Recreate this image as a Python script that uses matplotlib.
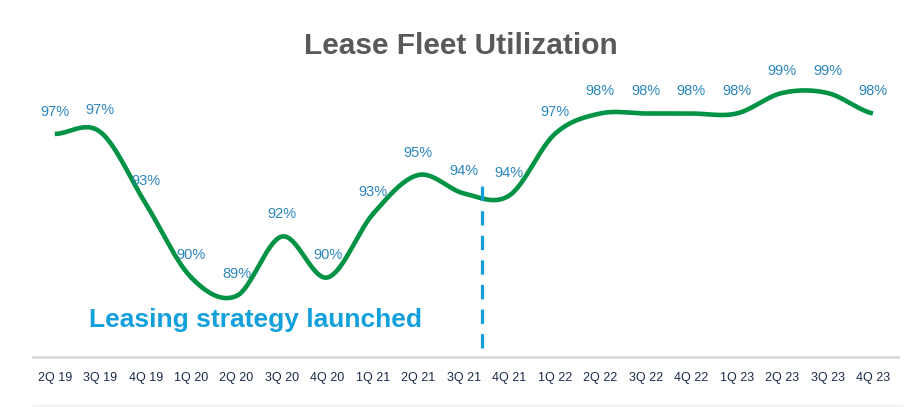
import numpy as np
import matplotlib.pyplot as plt
from matplotlib.lines import Line2D

quarters = ['2Q 19', '3Q 19', '4Q 19', '1Q 20', '2Q 20', '3Q 20', '4Q 20',
            '1Q 21', '2Q 21', '3Q 21', '4Q 21', '1Q 22', '2Q 22', '3Q 22',
            '4Q 22', '1Q 23', '2Q 23', '3Q 23', '4Q 23']
utilization = [97.0, 97.1, 93.6, 90.0, 89.1, 92.0, 90.0, 93.1, 95.0, 94.1,
               94.0, 97.0, 98.0, 98.0, 98.0, 98.0, 99.0, 99.0, 98.0]
labels = ['97%', '97%', '93%', '90%', '89%', '92%', '90%', '93%', '95%', '94%',
          '94%', '97%', '98%', '98%', '98%', '98%', '99%', '99%', '98%']
launch_pos = 9.4  # between 3Q 21 and 4Q 21

plt.rcParams['font.family'] = ['Liberation Sans', 'DejaVu Sans']


def smooth(x, y, n=30):
    # catmull-rom curve through the points, like a smoothed office chart line
    x = np.asarray(x, float)
    y = np.asarray(y, float)
    px = np.concatenate([[2 * x[0] - x[1]], x, [2 * x[-1] - x[-2]]])
    py = np.concatenate([[y[0]], y, [y[-1]]])
    xs, ys = [], []
    t = np.linspace(0, 1, n)
    for i in range(1, len(px) - 2):
        for p, out in ((px, xs), (py, ys)):
            p0, p1, p2, p3 = p[i - 1], p[i], p[i + 1], p[i + 2]
            out.append(0.5 * (2 * p1 + (-p0 + p2) * t
                              + (2 * p0 - 5 * p1 + 4 * p2 - p3) * t ** 2
                              + (-p0 + 3 * p1 - 3 * p2 + p3) * t ** 3))
    return np.concatenate(xs), np.concatenate(ys)


fig = plt.figure(figsize=(9.11, 4.07), dpi=100)
ax = fig.add_axes([0.0362, 0.1229, 0.9495, 0.7297])

x = np.arange(len(quarters))
sx, sy = smooth(x, utilization)
ax.plot(sx, sy, color='#009245', lw=3.3, solid_capstyle='butt')

for i, (v, lab) in enumerate(zip(utilization, labels)):
    ax.annotate(lab, (i, v), xytext=(0, 16), textcoords='offset points',
                ha='center', va='center', fontsize=10.5, color='#2A86BF')

ax.plot([launch_pos, launch_pos], [86.56, 94.6], color='#12A0DC', lw=2.3,
        dashes=(4.5, 3.2))
ax.text(4.42, 87.9, 'Leasing strategy launched', ha='center', va='center',
        fontsize=19, fontweight='bold', color='#12A0DC')

ax.set_xlim(-0.48, 18.55)
ax.set_ylim(86.12, 100.61)
ax.set_xticks(x)
ax.set_xticklabels(quarters, fontsize=9, color='#1B2A4A')
ax.tick_params(axis='x', length=0, pad=11)
ax.set_yticks([])
for side in ['top', 'left', 'right']:
    ax.spines[side].set_visible(False)
ax.spines['bottom'].set_color('#D9D9D9')
ax.spines['bottom'].set_linewidth(2)

fig.text(0.506, 0.887, 'Lease Fleet Utilization', ha='center', va='center',
         fontsize=21.5, fontweight='bold', color='#595959')
fig.add_artist(Line2D([0.036, 0.99], [0.006, 0.006], color='#EEEEEE', lw=1))

fig.savefig('out.png', dpi=100)
